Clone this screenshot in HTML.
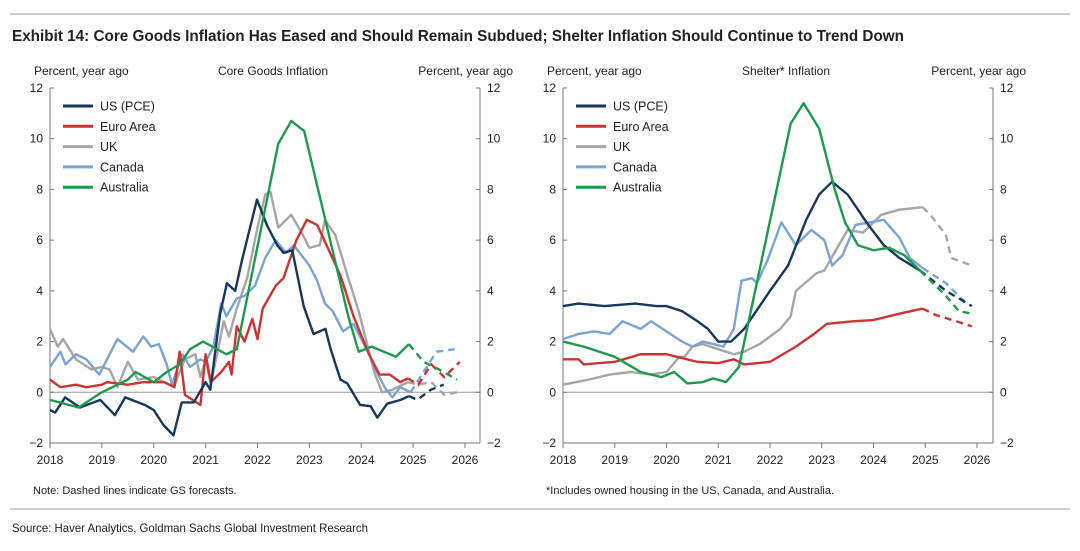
<!DOCTYPE html>
<html><head><meta charset="utf-8"><style>
body{margin:0;background:#fff;width:1080px;height:546px;overflow:hidden;font-family:"Liberation Sans",sans-serif}
svg text{font-family:"Liberation Sans",sans-serif;fill:#222}
</style></head><body>
<svg id="s" width="1080" height="546">
<line x1="10" y1="14" x2="1070" y2="14" stroke="#999" stroke-width="1"/>
<text x="12" y="41" textLength="892" lengthAdjust="spacingAndGlyphs" style="font-weight:bold;font-size:16px" fill="#111">Exhibit 14: Core Goods Inflation Has Eased and Should Remain Subdued; Shelter Inflation Should Continue to Trend Down</text>
<line x1="10" y1="509" x2="1070" y2="509" stroke="#999" stroke-width="1"/>
<text x="12" y="532" font-size="12" textLength="356" lengthAdjust="spacingAndGlyphs">Source: Haver Analytics, Goldman Sachs Global Investment Research</text>
<text x="33" y="494" font-size="11">Note: Dashed lines indicate GS forecasts.</text>
<text x="546" y="494" font-size="11">*Includes owned housing in the US, Canada, and Australia.</text>
</svg>
<script>
const names=["US (PCE)","Euro Area","UK","Canada","Australia"];
const colors=["#17375e","#cc3333","#a6a6a6","#7aa3d6","#1e9a4c"];
const yTicks=[-2,0,2,4,6,8,10,12];
const xTicks=[2018,2019,2020,2021,2022,2023,2024,2025,2026];
const cgT=[
[2018,2018.1,2018.29,2018.58,2018.97,2019.25,2019.45,2019.83,2020,2020.19,2020.38,2020.54,2020.77,2021,2021.09,2021.28,2021.41,2021.57,2021.7,2021.99,2022.18,2022.38,2022.5,2022.67,2022.89,2023.08,2023.31,2023.41,2023.6,2023.73,2023.98,2024.18,2024.31,2024.5,2024.76,2024.92],
[2018,2018.2,2018.5,2018.7,2019,2019.1,2019.5,2019.8,2020.2,2020.4,2020.5,2020.6,2020.75,2020.9,2021,2021.1,2021.3,2021.45,2021.5,2021.6,2021.75,2021.9,2022,2022.1,2022.35,2022.5,2022.75,2022.95,2023.15,2023.4,2023.6,2023.85,2024.15,2024.35,2024.55,2024.75,2024.9],
[2018,2018.15,2018.25,2018.5,2018.8,2019,2019.15,2019.3,2019.5,2019.7,2020,2020.3,2020.4,2020.6,2020.8,2020.9,2021,2021.1,2021.35,2021.45,2021.6,2021.8,2022,2022.15,2022.25,2022.4,2022.55,2022.65,2022.85,2023,2023.2,2023.3,2023.5,2023.75,2023.95,2024.1,2024.25,2024.4,2024.6,2024.9],
[2018,2018.2,2018.3,2018.5,2018.7,2018.95,2019.2,2019.3,2019.6,2019.8,2019.95,2020.1,2020.25,2020.35,2020.55,2020.7,2020.9,2021,2021.15,2021.3,2021.4,2021.6,2021.75,2021.95,2022.15,2022.35,2022.55,2022.7,2023,2023.15,2023.3,2023.45,2023.65,2023.85,2024.15,2024.3,2024.45,2024.6,2024.75,2024.95],
[2018,2018.55,2019,2019.5,2019.65,2020,2020.25,2020.5,2020.7,2020.95,2021.4,2021.6,2022.4,2022.65,2022.9,2023.4,2023.75,2023.95,2024.2,2024.67,2024.92]];
const cgV=[
[-0.7,-0.8,-0.2,-0.6,-0.3,-0.9,-0.2,-0.5,-0.7,-1.3,-1.7,-0.4,-0.4,0.4,0.1,3.1,4.3,4,5.2,7.6,6.6,5.8,5.5,5.6,3.4,2.3,2.5,1.7,0.5,0.35,-0.5,-0.55,-1,-0.45,-0.3,-0.15],
[0.5,0.2,0.3,0.2,0.3,0.4,0.3,0.4,0.4,0.2,1.6,-0.1,-0.3,-0.5,1.5,0.4,0.8,1.2,0.7,2.6,2,2.9,2.1,3.3,4.2,4.5,6,6.8,6.6,5.5,4.6,3,1.5,0.7,0.7,0.4,0.55],
[2.5,1.8,2.1,1.3,0.9,1,0.9,0.2,1.2,0.5,0.6,0.3,0.3,1.3,1.5,0.6,1.3,0.3,2.8,2.2,3.3,4.5,6.5,7.8,7.9,6.5,6.8,7,6.3,5.7,5.8,6.8,6.2,4.5,3.2,2,0.8,0,0.1,0.4],
[1,1.6,1.1,1.5,1.3,0.7,1.7,2.1,1.6,2.2,1.8,1.9,1.1,0.3,1.5,1,1.3,1.2,1.8,3.5,3,3.7,3.8,4.2,5.3,6,5.5,5.8,5,4.4,3.5,3.2,2.4,2.7,1.5,0.8,0.2,-0.2,0.2,0],
[-0.3,-0.6,0,0.5,0.8,0.4,0.8,1.1,1.7,2,1.5,1.7,9.8,10.7,10.3,6,3,1.6,1.8,1.4,1.9]];
const cgFT=[[2024.92,2025.08,2025.34,2025.59],[2024.9,2025.1,2025.35,2025.6,2025.9],[2024.9,2025.1,2025.35,2025.6,2025.85],[2024.95,2025.2,2025.45,2025.8],[2024.92,2025.2,2025.5,2025.85]];
const cgFV=[[-0.15,-0.3,0.1,0.3],[0.55,0.3,1.1,0.6,1.2],[0.4,0.3,0.4,-0.1,0],[0,0.8,1.6,1.7],[1.9,1.2,0.9,0.5]];
const shT=[
[2018,2018.3,2018.8,2019.4,2019.8,2020,2020.3,2020.6,2020.8,2021,2021.25,2021.5,2022,2022.35,2022.7,2022.95,2023.2,2023.5,2023.9,2024.2,2024.5,2024.9],
[2018,2018.3,2018.4,2019,2019.5,2020,2020.2,2020.6,2021,2021.3,2021.5,2022,2022.5,2022.85,2023.1,2023.6,2024,2024.5,2024.95],
[2018,2018.5,2018.9,2019.3,2019.7,2020,2020.25,2020.35,2020.5,2020.7,2021,2021.3,2021.5,2021.8,2022.2,2022.4,2022.5,2022.9,2023.05,2023.3,2023.5,2023.8,2024.15,2024.5,2024.95],
[2018,2018.3,2018.6,2018.9,2019.15,2019.5,2019.7,2020,2020.3,2020.5,2020.7,2021.1,2021.3,2021.45,2021.65,2021.75,2021.95,2022.22,2022.5,2022.8,2023.05,2023.2,2023.4,2023.65,2024.2,2024.5,2024.7,2024.95],
[2018,2018.4,2019,2019.5,2019.9,2020.15,2020.4,2020.7,2020.9,2021.15,2021.4,2022.4,2022.65,2022.95,2023.25,2023.45,2023.7,2024,2024.3,2024.6,2024.9]];
const shV=[
[3.4,3.5,3.4,3.5,3.4,3.4,3.2,2.8,2.5,2,2,2.5,4,5,6.8,7.8,8.3,7.8,6.6,5.8,5.3,4.8],
[1.3,1.3,1.1,1.2,1.5,1.5,1.4,1.2,1.15,1.3,1.1,1.2,1.8,2.3,2.7,2.8,2.85,3.1,3.3],
[0.3,0.5,0.7,0.8,0.7,0.8,1.4,1.4,1.8,1.9,1.7,1.5,1.6,1.9,2.5,3,4,4.7,4.8,5.7,6.4,6.3,7,7.2,7.3],
[2.1,2.3,2.4,2.3,2.8,2.5,2.8,2.4,2,1.8,2,1.8,2.5,4.4,4.5,4.3,5.2,6.7,5.8,6.4,6,5,5.4,6.6,6.8,6.1,5.3,4.9],
[2,1.8,1.4,0.8,0.6,0.8,0.35,0.4,0.55,0.4,1,10.6,11.4,10.4,8,6.7,5.8,5.6,5.7,5.4,4.8]];
const shFT=[[2024.9,2025.4,2025.9],[2024.95,2025.2,2025.6,2025.9],[2024.95,2025.1,2025.4,2025.5,2025.9],[2024.95,2025.4,2025.8],[2024.9,2025.4,2025.65,2025.9]];
const shFV=[[4.8,4,3.4],[3.3,3.05,2.8,2.6],[7.3,7,6.2,5.3,5],[4.9,4.3,3.5],[4.8,3.8,3.2,3.1]];

const svg=document.getElementById('s');
const NS='http://www.w3.org/2000/svg';
function mk(tag,attrs,parent){const e=document.createElementNS(NS,tag);for(const k in attrs)e.setAttribute(k,attrs[k]);(parent||svg).appendChild(e);return e;}
function chart(id,L,R,X0,X1,title,T,V,FT,FV){
  const g=mk('g',{});
  
  
  const top=88,bot=443;
  const xs=y=>X0+(y-2018)/8*(X1-X0);
  const ys=v=>bot-(v+2)/14*(bot-top);
  const ax='#777';
  const la=mk('line',{x1:L,y1:top,x2:L,y2:bot,stroke:ax},g);
  
  
  const ra=mk('line',{x1:R,y1:top,x2:R,y2:bot,stroke:ax},g);
  
  
  const xa=mk('line',{x1:L,y1:bot,x2:R,y2:bot,stroke:ax},g);
  
  
  const z=mk('line',{x1:L,y1:ys(0),x2:R,y2:ys(0),stroke:'#999'},g);
  
  
  yTicks.forEach(v=>{
    mk('line',{x1:L,y1:ys(v),x2:L+4,y2:ys(v),stroke:ax},g);
    mk('line',{x1:R-4,y1:ys(v),x2:R,y2:ys(v),stroke:ax},g);
    const t1=mk('text',{x:L-7,y:ys(v)+4,'font-size':12,'text-anchor':'end'},g);t1.textContent=v<0?'\u2212'+(-v):v;
    
    
    const t2=mk('text',{x:R+7,y:ys(v)+4,'font-size':12},g);t2.textContent=v<0?'\u2212'+(-v):v;
    
    
  });
  xTicks.forEach(y=>{
    mk('line',{x1:xs(y),y1:bot,x2:xs(y),y2:bot+5,stroke:ax},g);
    const t=mk('text',{x:xs(y),y:bot+21,'font-size':12,'text-anchor':'middle'},g);t.textContent=y;
    
    
  });
  const h1=mk('text',{x:L-16,y:75,'font-size':12},g);h1.textContent='Percent, year ago';
  
  
  const h2=mk('text',{x:R+33,y:75,'font-size':12,'text-anchor':'end'},g);h2.textContent='Percent, year ago';
  
  
  const h3=mk('text',{x:(L+R)/2+8,y:75,'font-size':12,'text-anchor':'middle'},g);h3.textContent=title;
  
  
  const order=[2,3,1,0,4];
  order.forEach(i=>{
    const p=mk('polyline',{points:T[i].map((t,j)=>xs(t)+','+ys(V[i][j])).join(' '),fill:'none',stroke:colors[i],'stroke-width':2.4,'stroke-linejoin':'round'},g);
    
    
    const f=mk('polyline',{points:FT[i].map((t,j)=>xs(t)+','+ys(FV[i][j])).join(' '),fill:'none',stroke:colors[i],'stroke-width':2.4,'stroke-dasharray':'7,5'},g);
    
    
  });
  names.forEach((n,i)=>{
    const y=106+i*20.3;
    const ln=mk('line',{x1:L+13,y1:y,x2:L+43,y2:y,stroke:colors[i],'stroke-width':3},g);
    
    
    const t=mk('text',{x:L+50,y:y+4.5,'font-size':12.5},g);t.textContent=n;
    
    
  });
}
chart('core-goods-chart',50,480,50,465,'Core Goods Inflation',cgT,cgV,cgFT,cgFV);
chart('shelter-chart',563,993,563,977,'Shelter* Inflation',shT,shV,shFT,shFV);
</script>
</body></html>
